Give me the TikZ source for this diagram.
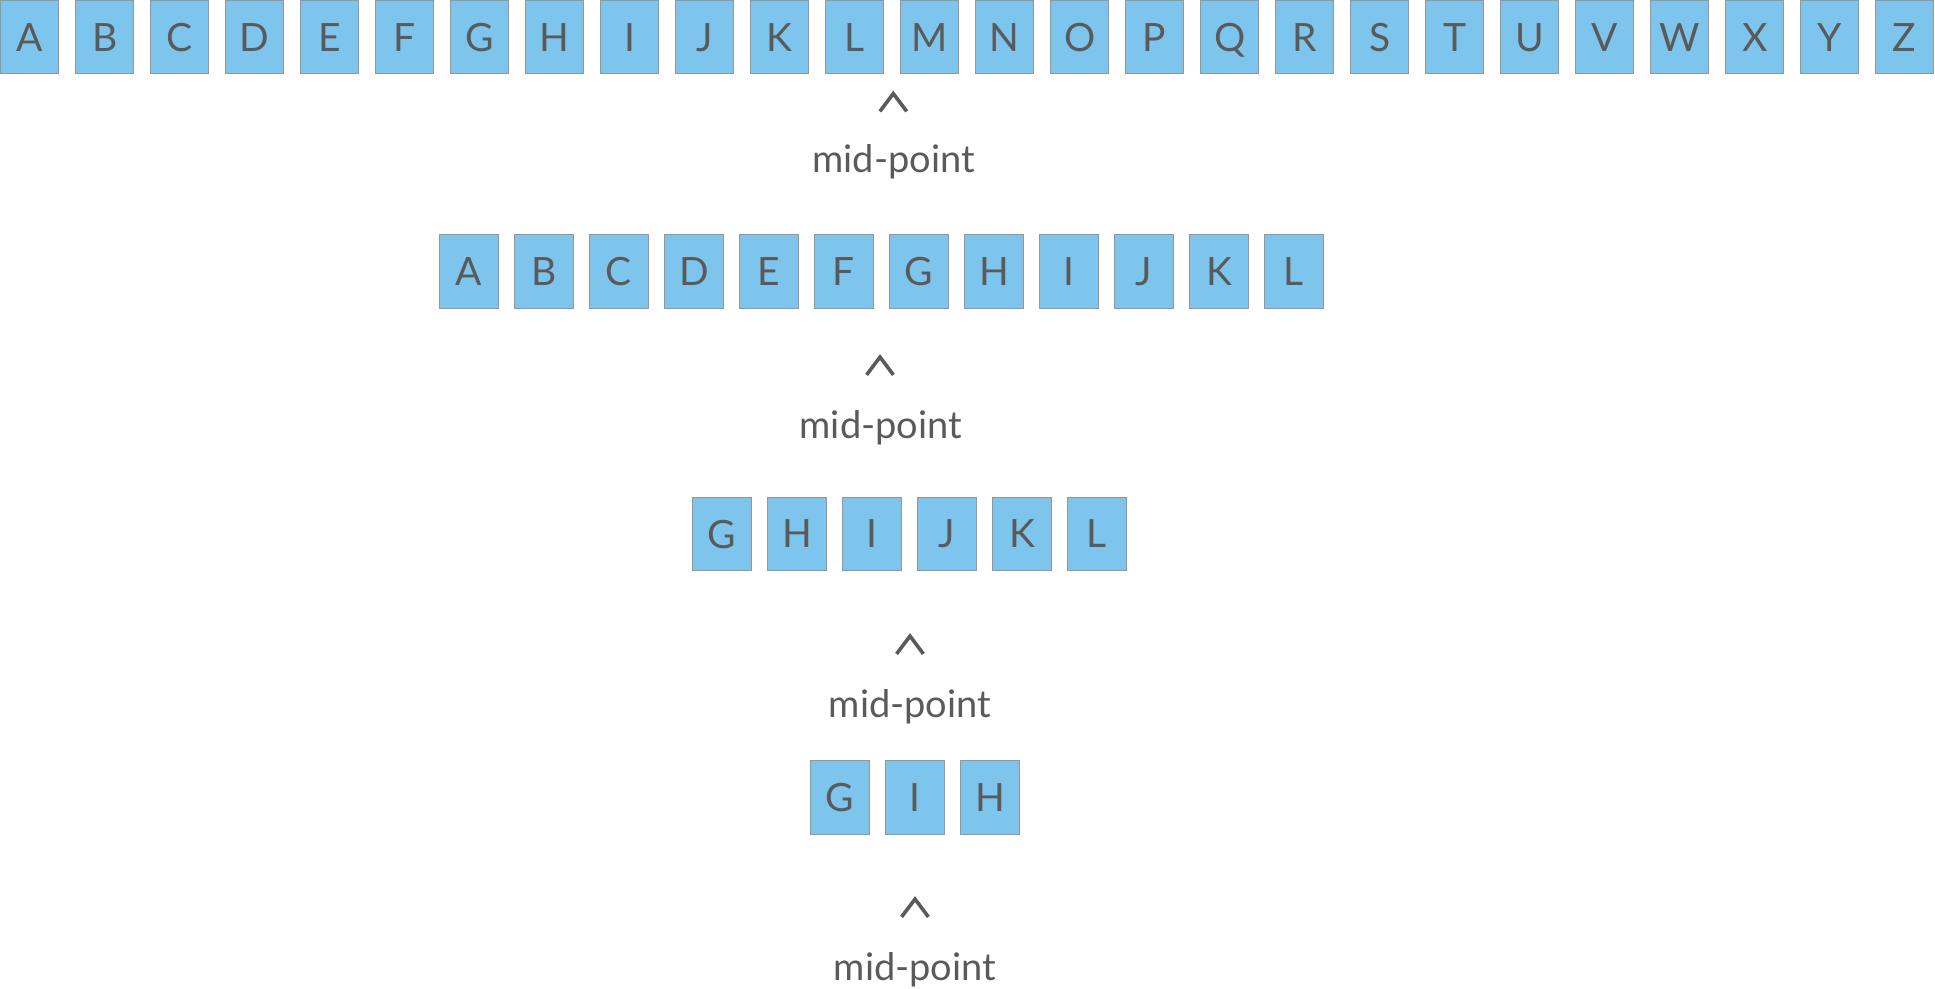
\documentclass[tikz,border=0pt]{standalone}
\usepackage{fontspec}
\setmainfont{Lato}
\usetikzlibrary{positioning}
\definecolor{boxblue}{RGB}{125,197,236}
\definecolor{boxline}{RGB}{150,150,150}
\definecolor{inkgrey}{RGB}{90,90,90}

\begin{document}
\begin{tikzpicture}[
      x=0.5pt, y=-0.5pt, on grid, node distance=37.5pt,
      letter/.style={draw=boxline, line width=0.5pt, fill=boxblue, text=inkgrey,
        minimum width=29.15pt, minimum height=36.65pt, inner sep=0pt, text depth=0pt,
        font=\fontsize{19.5}{22}\selectfont},
      midlabel/.style={text=inkgrey, inner sep=0pt, anchor=base,
        font=\fontsize{19}{22}\selectfont},
      caret/.style={minimum width=13pt, minimum height=8.5pt, inner sep=0pt},
      chevron/.style={draw=inkgrey, line width=1.8pt, miter limit=10}
      ]
      \useasboundingbox (0,0) rectangle (1935,989);

      % full alphabet
      \node[letter] (r1-A) at (29.65,37.15) {A};
      \foreach \ch [remember=\ch as \p (initially A)] in {B,...,Z}
        \node[letter, right=of r1-\p] (r1-\ch) {\ch};

      \node[caret] (up1) at (893.3,102.5) {};
      \draw[chevron] (up1.south west) -- (up1.north) -- (up1.south east);
      \node[midlabel] (mid1) at (893.7,173) {mid-point};

      % first half
      \node[letter] (r2-A) at (469,271.5) {A};
      \foreach \ch [remember=\ch as \p (initially A)] in {B,...,L}
        \node[letter, right=of r2-\p] (r2-\ch) {\ch};

      \node[caret] (up2) at (880,366) {};
      \draw[chevron] (up2.south west) -- (up2.north) -- (up2.south east);
      \node[midlabel] (mid2) at (880.8,438.3) {mid-point};

      % second half of that
      \node[letter] (r3-G) at (722,534) {G};
      \foreach \ch [remember=\ch as \p (initially G)] in {H,...,L}
        \node[letter, right=of r3-\p] (r3-\ch) {\ch};

      \node[caret] (up3) at (910,645) {};
      \draw[chevron] (up3.south west) -- (up3.north) -- (up3.south east);
      \node[midlabel] (mid3) at (910,718) {mid-point};

      % last three
      \node[letter] (r4-G) at (840,797.5) {G};
      \node[letter, right=of r4-G] (r4-I) {I};
      \node[letter, right=of r4-I] (r4-H) {H};

      \node[caret] (up4) at (915,908) {};
      \draw[chevron] (up4.south west) -- (up4.north) -- (up4.south east);
      \node[midlabel] (mid4) at (915,980) {mid-point};
    \end{tikzpicture}
\end{document}
